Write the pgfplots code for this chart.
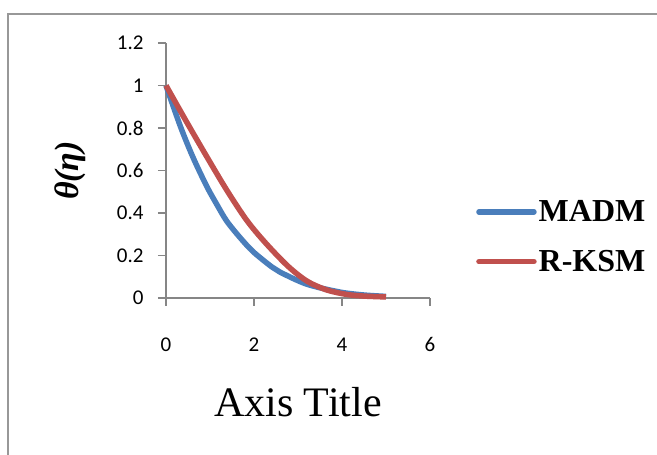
\documentclass[border=0pt]{standalone}
\usepackage{fontspec}
\setmainfont{Carlito}
\newfontfamily\seriffont{Liberation Serif}
\usepackage{pgfplots}
\pgfplotsset{compat=1.18}

\definecolor{xlblue}{RGB}{74,126,187}
\definecolor{xlred}{RGB}{192,80,77}
\definecolor{xlgray}{RGB}{134,134,134}

\pgfplotsset{
  xlline/.style={legend image code/.code={%
    \draw[##1, line cap=round] plot coordinates {(0pt,0pt) (27pt,0pt) (55pt,0pt)};}},
}

\begin{document}
\begin{tikzpicture}
\useasboundingbox (0,0) rectangle (657pt,455pt);
\draw[xlgray!85, line width=1.5pt] (8pt,-5pt) -- (8pt,441pt) -- (670pt,441pt);
\begin{axis}[
  at={(166pt,157pt)}, anchor=south west,
  scale only axis, width=264pt, height=255pt,
  xmin=0, xmax=6, ymin=0, ymax=1.2,
  xtick={0,2,4,6},
  xticklabels={0,2,4,6},
  ytick={0,0.2,0.4,0.6,0.8,1,1.2},
  yticklabels={0,0.2,0.4,0.6,0.8,1,1.2},
  axis x line=bottom, axis y line=left,
  axis line style={draw=xlgray, line width=1.3pt},
  x axis line style={-}, y axis line style={-},
  major tick style={draw=xlgray, line width=1.3pt},
  tick align=outside, major tick length=8pt,
  tick label style={font=\fontsize{21}{21}\selectfont},
  yticklabel style={xshift=-11pt},
  xticklabel style={yshift=-28pt},
  xlabel={Axis Title},
  xlabel style={font=\seriffont\fontsize{42}{42}\selectfont, anchor=base,
    at={(axis description cs:0.5,-0.4655)}},
  ylabel={\seriffont\bfseries\itshape θ(η)},
  ylabel style={font=\fontsize{34}{34}\selectfont, anchor=center,
    at={(axis description cs:-0.364,0.5)}},
  legend style={at={(1.163,0.24)}, anchor=west, draw=none, fill=none,
    row sep=23pt,
    font=\seriffont\bfseries\fontsize{32}{32}\selectfont},
  legend cell align=left,
  xlline,
  clip=false,
]
\addplot[xlblue, line width=5.5pt, smooth] coordinates {
  (0,1) (0.33,0.806) (0.62,0.659) (0.93,0.524) (1.15,0.442) (1.38,0.362)
  (1.68,0.285) (1.98,0.218) (2.4,0.147) (2.59,0.122) (3.2,0.065)
  (3.95,0.028) (4.5,0.014) (5,0.0075)};
\addplot[xlred, line width=5.5pt, smooth] coordinates {
  (0,1) (0.47,0.828) (0.93,0.664) (1.38,0.508) (1.83,0.367) (2.25,0.262)
  (2.76,0.152) (3.2,0.08) (3.65,0.038) (4.1,0.017) (4.5,0.009) (5,0.005)};
\legend{MADM, R-KSM}
\end{axis}
\end{tikzpicture}
\end{document}
